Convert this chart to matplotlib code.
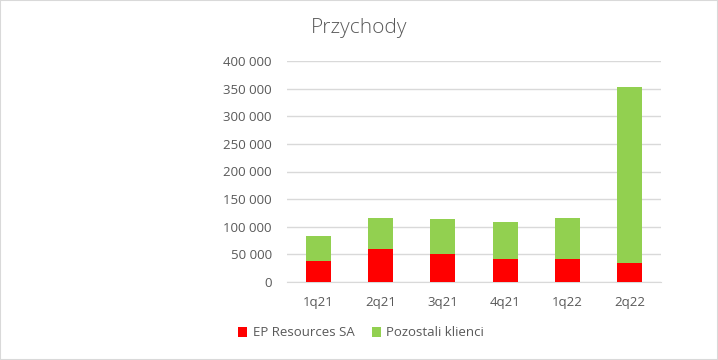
import matplotlib
matplotlib.use("Agg")
import matplotlib.pyplot as plt
from matplotlib.patches import Rectangle
from matplotlib.ticker import FuncFormatter

categories = ["1q21", "2q21", "3q21", "4q21", "1q22", "2q22"]
ep_resources = [38500, 60200, 51200, 42200, 42200, 34900]
total = [83700, 116300, 114500, 109000, 116300, 353000]
pozostali = [t - e for t, e in zip(total, ep_resources)]
yticks = [0, 50000, 100000, 150000, 200000, 250000, 300000, 350000, 400000]

plt.rcParams['font.family'] = ['Open Sans', 'DejaVu Sans']
gray = "#595959"

fig = plt.figure(figsize=(7.18, 3.6), dpi=100)
ax = fig.add_axes([287/718, 1-282/360, (661-287)/718, (282-61)/360])

x = list(range(len(categories)))
w = 0.4
ax.bar(x, ep_resources, width=w, color="#FF0000", label="EP Resources SA", zorder=3)
ax.bar(x, pozostali, width=w, bottom=ep_resources, color="#92D050", label="Pozostali klienci", zorder=3)

ax.set_xlim(-0.5, len(categories) - 0.5)
ax.set_ylim(0, 400000)
ax.set_yticks(yticks)
ax.yaxis.set_major_formatter(FuncFormatter(lambda v, p: f"{int(v):,}".replace(",", " ")))
ax.set_xticks(x)
ax.set_xticklabels(categories)
ax.grid(axis="y", color="#D9D9D9", linewidth=1, zorder=0)
for s in ["top", "right", "left"]:
    ax.spines[s].set_visible(False)
ax.spines["bottom"].set_color("#D9D9D9")
ax.tick_params(axis="both", length=0, colors=gray, labelsize=9.5)
ax.tick_params(axis="y", pad=11)
ax.tick_params(axis="x", pad=10)

fig.text(0.5, 1-28/360, "Przychody", ha="center", va="center", fontsize=15, color=gray, fontweight="light")

leg = fig.legend(loc="center", bbox_to_anchor=(361/718, 1-333/360), ncol=2, frameon=False,
                 fontsize=9.5, handlelength=0.7, handleheight=0.7, columnspacing=1.3, handletextpad=0.4)
for t in leg.get_texts():
    t.set_color(gray)

fig.patches.append(Rectangle((0, 0), 1, 1, transform=fig.transFigure, fill=False,
                             edgecolor="#D9D9D9", linewidth=1.5))
fig.savefig("out.png", dpi=100)
